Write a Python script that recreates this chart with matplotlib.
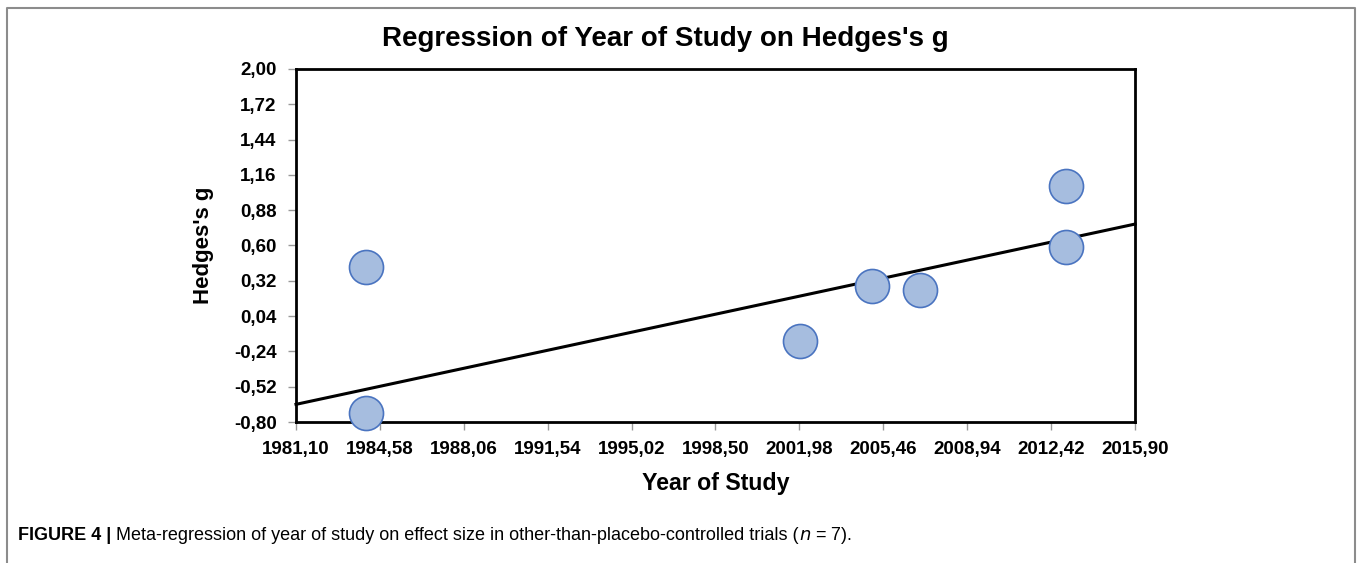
import matplotlib
matplotlib.use("Agg")
import matplotlib.pyplot as plt
from matplotlib.lines import Line2D
import numpy as np

plt.rcParams['font.family'] = ['Liberation Sans', 'DejaVu Sans']

# Data
years = [1984.0, 1984.0, 2002.0, 2005.0, 2007.0, 2013.05, 2013.05]
hedges_g = [0.43, -0.73, -0.16, 0.28, 0.25, 1.07, 0.59]
line_x = [1981.10, 2015.90]
line_y = [-0.66, 0.77]
xticks = [1981.10, 1984.58, 1988.06, 1991.54, 1995.02, 1998.50, 2001.98, 2005.46, 2008.94, 2012.42, 2015.90]
yticks = [-0.80, -0.52, -0.24, 0.04, 0.32, 0.60, 0.88, 1.16, 1.44, 1.72, 2.00]

W, H = 1360, 563
fig = plt.figure(figsize=(W/100, H/100), dpi=100)
ax = fig.add_axes([296/W, 1-422/H, (1135-296)/W, (422-69)/H])

ax.plot(line_x, line_y, color='black', lw=2.2, zorder=2, clip_on=False)
ax.scatter(years, hedges_g, s=600, facecolor='#a6bddf', edgecolor='#4a74c0', linewidth=1.2, zorder=3, clip_on=False)

ax.set_xlim(xticks[0], xticks[-1])
ax.set_ylim(yticks[0], yticks[-1])
ax.set_xticks(xticks)
ax.set_yticks(yticks)
ax.set_xticklabels([f"{v:.2f}".replace('.', ',') for v in xticks], fontsize=13.5, fontweight='bold')
ax.set_yticklabels([f"{v:.2f}".replace('.', ',') for v in yticks], fontsize=13.5, fontweight='bold')
ax.tick_params(axis='both', direction='out', length=6, width=1, color='#999999', pad=8)
for s in ax.spines.values():
    s.set_linewidth(2.0)
    s.set_color('black')

ax.set_xlabel("Year of Study", fontsize=16.7, fontweight='bold', labelpad=10)
ax.set_ylabel("Hedges's g", fontsize=16, fontweight='bold', labelpad=14)
fig.text(665/W, 1-39/H, "Regression of Year of Study on Hedges's g", fontsize=20, fontweight='bold',
         ha='center', va='center')

# outer border (open at the bottom)
bx0, bx1, by0 = 7/W, 1355/W, 1-8/H
fig.add_artist(Line2D([bx0, bx0, bx1, bx1], [0, by0, by0, 0], transform=fig.transFigure,
                      color='#8c8c8c', lw=1.5))

# caption
cy = 1 - 535/H
t1 = fig.text(18/W, cy, "FIGURE 4 |", fontsize=13, fontweight='bold', ha='left', va='center')
fig.canvas.draw()
bb = t1.get_window_extent()
t2 = fig.text((bb.x1 + 5)/W, cy, "Meta-regression of year of study on effect size in other-than-placebo-controlled trials (",
              fontsize=13, ha='left', va='center')
fig.canvas.draw()
bb2 = t2.get_window_extent()
t3 = fig.text((bb2.x1)/W, cy, r"$n$ = 7).", fontsize=13, ha='left', va='center')

fig.savefig("out.png", dpi=100)
